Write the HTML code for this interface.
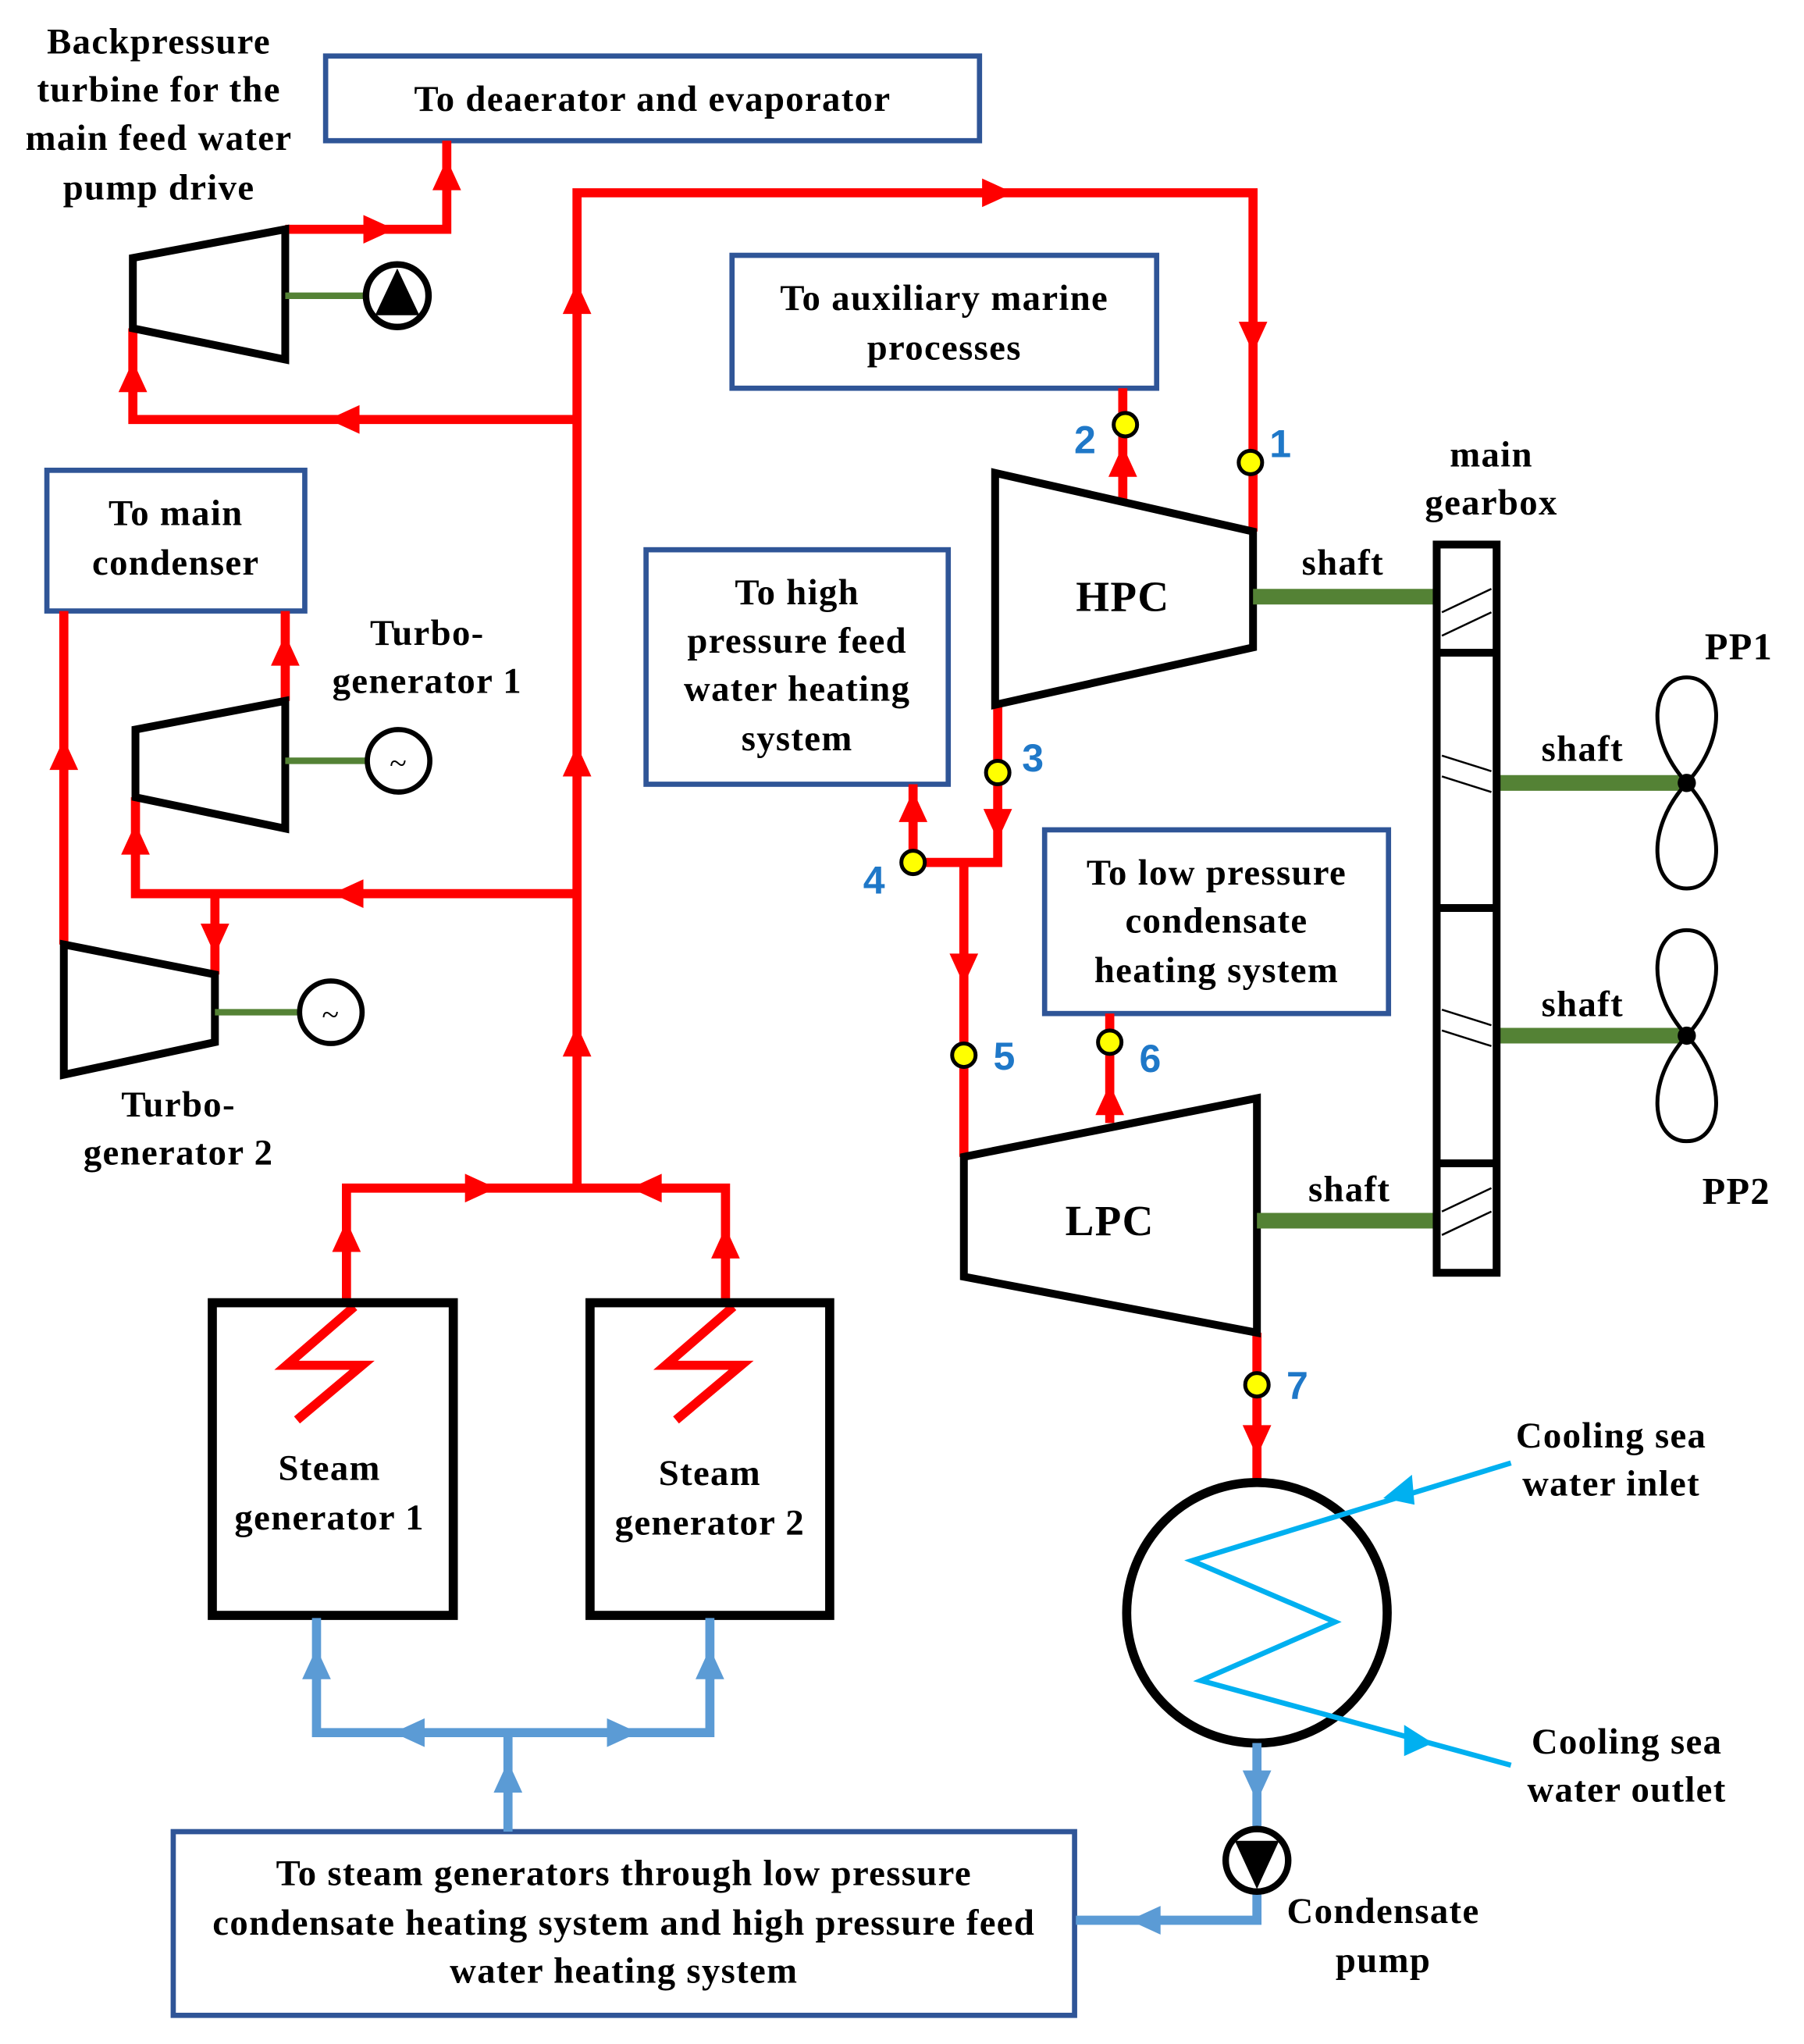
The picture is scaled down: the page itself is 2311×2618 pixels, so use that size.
<!DOCTYPE html>
<html><head><meta charset="utf-8"><style>
html,body{margin:0;padding:0;background:#fff;}
svg{display:block;}
text{font-family:"Liberation Serif",serif;font-weight:bold;font-size:28px;letter-spacing:0.8px;fill:#000;text-anchor:middle;}
.n{font-family:"Liberation Sans",sans-serif;fill:#1F78C8;font-size:30px;letter-spacing:0;}
</style></head><body>
<svg width="2311" height="2618" viewBox="0 0 1385 1569" preserveAspectRatio="none" xmlns="http://www.w3.org/2000/svg">
<defs>
<polygon id="au" points="0,-13 -11,11 11,11"/>
<polygon id="ad" points="0,13 -11,-11 11,-11"/>
<polygon id="ar" points="13,0 -11,-11 -11,11"/>
<polygon id="al" points="-13,0 11,-11 11,11"/>
</defs>
<rect width="1385" height="1569" fill="#fff"/>

<text x="122" y="41">Backpressure</text>
<text x="122" y="78">turbine for the</text>
<text x="122" y="115">main feed water</text>
<text x="122" y="153">pump drive</text>

<g fill="#fff" stroke="#2F5597" stroke-width="4">
<rect x="250" y="43" width="502" height="65"/>
<rect x="562" y="196" width="326" height="102"/>
<rect x="36" y="361" width="198" height="108"/>
<rect x="496" y="422" width="232" height="180"/>
<rect x="802" y="637" width="264" height="141"/>
<rect x="133" y="1406" width="692" height="141"/>
</g>
<text x="501" y="85">To deaerator and evaporator</text>
<text x="725" y="238">To auxiliary marine</text>
<text x="725" y="276">processes</text>
<text x="135" y="403">To main</text>
<text x="135" y="441">condenser</text>
<text x="612" y="464">To high</text>
<text x="612" y="501">pressure feed</text>
<text x="612" y="538">water heating</text>
<text x="612" y="576">system</text>
<text x="934" y="679">To low pressure</text>
<text x="934" y="716">condensate</text>
<text x="934" y="754">heating system</text>
<text x="479" y="1447">To steam generators through low pressure</text>
<text x="479" y="1485">condensate heating system and high pressure feed</text>
<text x="479" y="1522">water heating system</text>

<g stroke="#FF0000" stroke-width="7" fill="none" stroke-linejoin="miter">
<polyline points="219,176 343,176 343,108"/>
<polyline points="102,252 102,322 443,322"/>
<polyline points="443,912 443,148 962,148 962,408"/>
<polyline points="862,385 862,298"/>
<polyline points="766,541 766,662 701,662 701,602"/>
<polyline points="740,662 740,888"/>
<polyline points="852,862 852,778"/>
<polyline points="965,1023 965,1140"/>
<polyline points="266,1000 266,912 557,912 557,1000"/>
<polyline points="219,538 219,469"/>
<polyline points="443,686 104,686 104,612"/>
<polyline points="165,686 165,748"/>
<polyline points="49,725 49,469"/>
<polyline points="272,1003 220,1048 278,1048 228,1090"/>
<polyline points="563,1003 511,1048 569,1048 519,1090"/>
</g>
<g fill="#FF0000">
<use href="#ar" x="290" y="176"/><use href="#au" x="343" y="135"/>
<use href="#au" x="102" y="290"/><use href="#al" x="265" y="322"/>
<use href="#au" x="443" y="230"/><use href="#au" x="443" y="585"/><use href="#au" x="443" y="800"/>
<use href="#ar" x="765" y="148"/><use href="#ad" x="962" y="258"/>
<use href="#au" x="862" y="355"/>
<use href="#ad" x="766" y="632"/><use href="#au" x="701" y="620"/>
<use href="#ad" x="740" y="743"/><use href="#au" x="852" y="845"/>
<use href="#ad" x="965" y="1105"/>
<use href="#au" x="266" y="950"/><use href="#ar" x="368" y="912"/><use href="#al" x="497" y="912"/><use href="#au" x="557" y="955"/>
<use href="#au" x="219" y="500"/><use href="#al" x="268" y="686"/><use href="#au" x="104" y="645"/><use href="#ad" x="165" y="720"/>
<use href="#au" x="49" y="580"/>
</g>

<g fill="none" stroke="#000" stroke-width="6" stroke-linejoin="miter">
<polygon points="102,198 219,176 219,276 102,252"/>
<polygon points="104,560 219,538 219,636 104,612"/>
<polygon points="49,725 165,748 165,800 49,825"/>
<polygon points="764,363 962,408 962,497 764,541"/>
<polygon points="740,888 965,843 965,1023 740,980"/>
</g>
<text x="862" y="469" style="font-size:33px">HPC</text>
<text x="852" y="948" style="font-size:33px">LPC</text>

<g stroke="#548235" stroke-width="5">
<line x1="219" y1="227" x2="283" y2="227"/>
<line x1="219" y1="584" x2="283" y2="584"/>
<line x1="165" y1="777" x2="230" y2="777"/>
</g>
<g stroke="#548235" stroke-width="12">
<line x1="962" y1="458" x2="1103" y2="458"/>
<line x1="1149" y1="601" x2="1295" y2="601"/>
<line x1="1149" y1="795" x2="1295" y2="795"/>
<line x1="965" y1="937" x2="1103" y2="937"/>
</g>
<circle cx="305" cy="227" r="24" fill="#fff" stroke="#000" stroke-width="5"/>
<polygon points="305,206 288,242 322,242" fill="#000"/>
<circle cx="306" cy="584" r="24" fill="#fff" stroke="#000" stroke-width="4"/>
<text x="306" y="594" style="font-size:24px;font-weight:normal">~</text>
<circle cx="254" cy="777" r="24" fill="#fff" stroke="#000" stroke-width="4"/>
<text x="254" y="787" style="font-size:24px;font-weight:normal">~</text>
<text x="328" y="495">Turbo-</text>
<text x="328" y="532">generator 1</text>
<text x="137" y="857">Turbo-</text>
<text x="137" y="894">generator 2</text>

<g stroke="#000" fill="none">
<rect x="1103" y="418" width="46" height="559" stroke-width="6"/>
<line x1="1103" y1="501" x2="1149" y2="501" stroke-width="6"/>
<line x1="1103" y1="697" x2="1149" y2="697" stroke-width="6"/>
<line x1="1103" y1="893" x2="1149" y2="893" stroke-width="6"/>
<g stroke-width="1.5">
<line x1="1107" y1="470" x2="1145" y2="452"/><line x1="1107" y1="488" x2="1145" y2="470"/>
<line x1="1107" y1="580" x2="1145" y2="592"/><line x1="1107" y1="596" x2="1145" y2="608"/>
<line x1="1107" y1="775" x2="1145" y2="787"/><line x1="1107" y1="791" x2="1145" y2="803"/>
<line x1="1107" y1="930" x2="1145" y2="912"/><line x1="1107" y1="948" x2="1145" y2="930"/>
</g>
</g>
<text x="1031" y="441">shaft</text>
<text x="1215" y="584">shaft</text>
<text x="1215" y="780">shaft</text>
<text x="1036" y="922">shaft</text>
<text x="1145" y="358">main</text>
<text x="1145" y="395">gearbox</text>
<text x="1335" y="506" style="font-size:29px">PP1</text>
<text x="1333" y="924" style="font-size:29px">PP2</text>

<g fill="#fff" stroke="#000" stroke-width="3">
<path d="M1295,601 C1262,565 1268,520 1295,520 C1322,520 1328,565 1295,601 Z"/>
<path d="M1295,601 C1262,637 1268,682 1295,682 C1322,682 1328,637 1295,601 Z"/>
<path d="M1295,795 C1262,759 1268,714 1295,714 C1322,714 1328,759 1295,795 Z"/>
<path d="M1295,795 C1262,831 1268,876 1295,876 C1322,876 1328,831 1295,795 Z"/>
</g>
<circle cx="1295" cy="601" r="7" fill="#000"/>
<circle cx="1295" cy="795" r="7" fill="#000"/>

<g fill="#FFFF00" stroke="#000" stroke-width="3">
<circle cx="960" cy="355" r="9"/><circle cx="864" cy="326" r="9"/>
<circle cx="766" cy="593" r="9"/><circle cx="701" cy="662" r="9"/>
<circle cx="740" cy="810" r="9"/><circle cx="852" cy="800" r="9"/>
<circle cx="965" cy="1063" r="9"/>
</g>
<text class="n" x="983" y="351">1</text>
<text class="n" x="833" y="348">2</text>
<text class="n" x="793" y="592">3</text>
<text class="n" x="671" y="686">4</text>
<text class="n" x="771" y="821">5</text>
<text class="n" x="883" y="823">6</text>
<text class="n" x="996" y="1074">7</text>

<g fill="none" stroke="#000" stroke-width="7">
<rect x="163" y="1000" width="185" height="240"/>
<rect x="453" y="1000" width="184" height="240"/>
</g>
<text x="253" y="1136">Steam</text>
<text x="253" y="1174">generator 1</text>
<text x="545" y="1140">Steam</text>
<text x="545" y="1178">generator 2</text>

<circle cx="965" cy="1238" r="100" fill="none" stroke="#000" stroke-width="7"/>
<polyline points="1160,1123 915,1198 1025,1245 922,1290 1160,1355" fill="none" stroke="#00B0F0" stroke-width="4"/>
<polygon points="1062,1150 1084,1132 1086,1155" fill="#00B0F0"/>
<polygon points="1100,1338 1078,1324 1078,1348" fill="#00B0F0"/>
<text x="1237" y="1111">Cooling sea</text>
<text x="1237" y="1148">water inlet</text>
<text x="1249" y="1346">Cooling sea</text>
<text x="1249" y="1383">water outlet</text>

<g stroke="#5B9BD5" stroke-width="7" fill="none">
<polyline points="965,1338 965,1404"/>
<polyline points="965,1452 965,1474 826,1474"/>
<polyline points="390,1406 390,1330"/>
<polyline points="243,1242 243,1330 545,1330 545,1242"/>
</g>
<g fill="#5B9BD5">
<use href="#ad" x="965" y="1370"/><use href="#al" x="880" y="1474"/>
<use href="#au" x="390" y="1365"/><use href="#al" x="315" y="1330"/><use href="#ar" x="477" y="1330"/>
<use href="#au" x="243" y="1278"/><use href="#au" x="545" y="1278"/>
</g>
<circle cx="965" cy="1428" r="24" fill="#fff" stroke="#000" stroke-width="5"/>
<polygon points="965,1450 948,1413 982,1413" fill="#000"/>
<text x="1062" y="1476">Condensate</text>
<text x="1062" y="1514">pump</text>
</svg>
</body></html>
